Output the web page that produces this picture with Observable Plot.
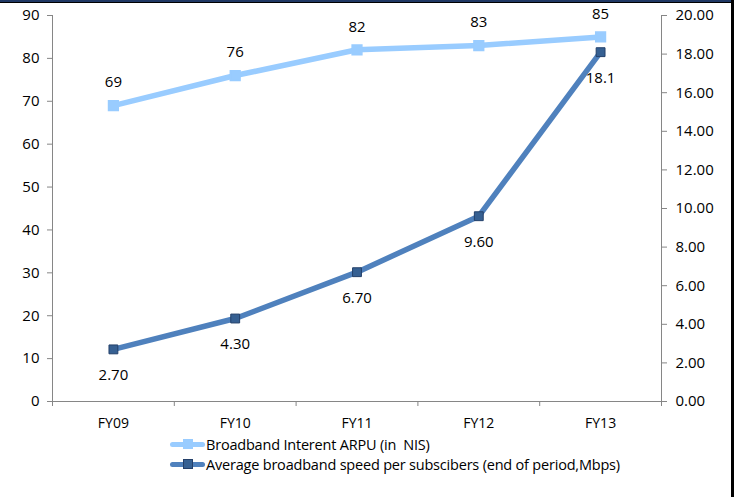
<!DOCTYPE html>
<html>
<head>
<meta charset="utf-8">
<script src="https://cdn.jsdelivr.net/npm/d3@7"></script>
<script src="https://cdn.jsdelivr.net/npm/@observablehq/plot@0.6"></script>
<style>
  html, body { margin: 0; padding: 0; background: #fff; }
  #wrap { position: relative; width: 734px; height: 497px; overflow: hidden; font-family: "Open Sans", "Noto Sans", sans-serif; }
  #topbar { position: absolute; left: 0; top: 0; width: 731px; height: 3px; background: #1f3864; border-bottom: 1px solid #000; box-sizing: border-box; }
  #rightbar { position: absolute; right: 0; top: 0; width: 3px; height: 497px; background: #000; }
  #legend { position: absolute; left: 170px; top: 434px; font-size: 14.5px; color: #000; letter-spacing: -0.2px; }
  .row { display: flex; align-items: center; height: 20px; }
  .row span { white-space: pre; }
  .sw { position: relative; width: 35px; height: 10px; margin-right: 1px; }
  .sw .ln { position: absolute; left: 0; right: 0; top: 2.5px; height: 5px; border-radius: 3px; }
  .sw .mk { position: absolute; left: 13px; top: 0; width: 10px; height: 10px; box-sizing: border-box; }
</style>
</head>
<body>
<div id="wrap">
  <div id="chart"></div>
  <div id="legend"></div>
  <div id="topbar"></div>
  <div id="rightbar"></div>
</div>
<script>
const categories = ["FY09", "FY10", "FY11", "FY12", "FY13"];
const arpu = [69, 76, 82, 83, 85];
const speed = [2.70, 4.30, 6.70, 9.60, 18.1];
const speedLabels = ["2.70", "4.30", "6.70", "9.60", "18.1"];
const leftTicks = [0, 10, 20, 30, 40, 50, 60, 70, 80, 90];
const rightTicks = [0, 2, 4, 6, 8, 10, 12, 14, 16, 18, 20];
const seriesNames = ["Broadband Interent ARPU (in  NIS)", "Average broadband speed per subscibers (end of period,Mbps)"];

const k = 90 / 20; // right axis -> left axis factor
const arpuData = categories.map((c, i) => ({x: i + 0.5, y: arpu[i], label: String(arpu[i])}));
const speedData = categories.map((c, i) => ({x: i + 0.5, y: speed[i] * k, label: speedLabels[i]}));

const lightBlue = "#99ccff";
const darkLine = "#4f81bd";
const darkMarker = "#366092";
const axisGray = "#868686";

const chart = Plot.plot({
  width: 734,
  height: 497,
  marginTop: 15,
  marginBottom: 96,
  marginLeft: 52,
  marginRight: 73,
  style: {fontFamily: "'Open Sans', 'Noto Sans', sans-serif", fontSize: "15px", color: "#000", background: "#fff"},
  x: {domain: [0, 5]},
  y: {domain: [0, 90]},
  marks: [
    Plot.ruleX([0], {y1: 0, y2: 90, stroke: axisGray}),
    Plot.ruleX([5], {y1: 0, y2: 90, stroke: axisGray}),
    Plot.ruleY([0], {x1: 0, x2: 5, stroke: axisGray}),
    Plot.axisY({ticks: leftTicks, anchor: "left", tickSize: 5, tickPadding: 8, stroke: axisGray, fill: "#000", fontSize: 15, label: null}),
    Plot.axisY({ticks: rightTicks.map(d => d * k), anchor: "right", tickSize: 5, tickPadding: 9, stroke: axisGray, fill: "#000", fontSize: 15, label: null, tickFormat: d => (d / k).toFixed(2)}),
    Plot.axisX({ticks: [0, 1, 2, 3, 4, 5], tickSize: 5, stroke: axisGray, tickFormat: () => "", label: null}),
    Plot.axisX({ticks: categories.map((c, i) => i + 0.5), tickSize: 0, tickPadding: 17, fill: "#000", fontSize: 14, tickFormat: d => categories[Math.round(d - 0.5)], label: null}),
    Plot.line(arpuData, {x: "x", y: "y", stroke: lightBlue, strokeWidth: 5.5}),
    Plot.dot(arpuData, {x: "x", y: "y", symbol: "square", r: 5.5, fill: lightBlue, stroke: lightBlue}),
    Plot.text(arpuData, {x: "x", y: "y", text: "label", dy: -23, fontSize: 15, fill: "#000"}),
    Plot.line(speedData, {x: "x", y: "y", stroke: darkLine, strokeWidth: 5.5}),
    Plot.dot(speedData, {x: "x", y: "y", symbol: "square", r: 5, fill: darkMarker, stroke: "#24406a", strokeWidth: 1}),
    Plot.text(speedData, {x: "x", y: "y", text: "label", dy: 26, fontSize: 15, fill: "#000"})
  ]
});
document.getElementById("chart").appendChild(chart);

const legend = document.getElementById("legend");
const legendColors = [[lightBlue, lightBlue, lightBlue], [darkLine, darkMarker, "#24406a"]];
seriesNames.forEach((name, i) => {
  const row = document.createElement("div");
  row.className = "row";
  const [lc, mc, ms] = legendColors[i];
  row.innerHTML = `<div class="sw"><div class="ln" style="background:${lc}"></div><div class="mk" style="background:${mc};border:1px solid ${ms}"></div></div><span>${name}</span>`;
  legend.appendChild(row);
});
</script>
</body>
</html>
